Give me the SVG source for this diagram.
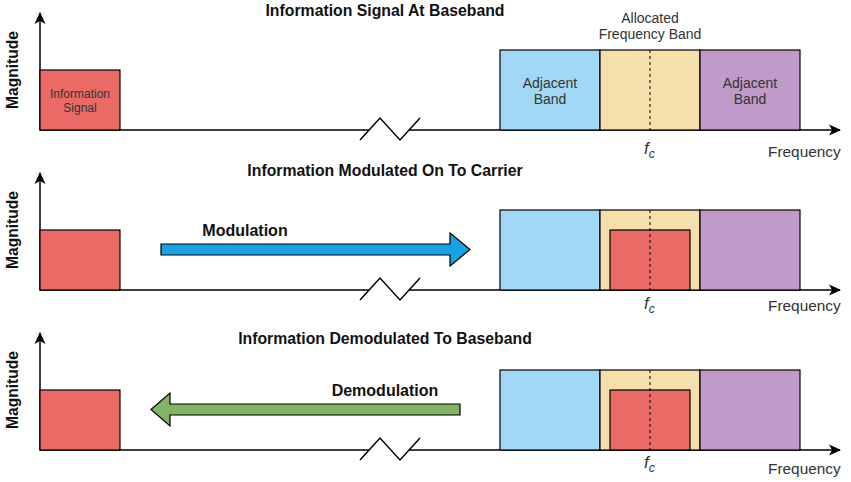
<svg xmlns="http://www.w3.org/2000/svg" width="851" height="482" viewBox="0 0 851 482">
<style>
.ax{stroke:#000;stroke-width:1.5;fill:none}
.box{stroke:#000;stroke-width:1.2}
.red{fill:#EA6B66}
.blue{fill:#A0D8F5}
.yel{fill:#F5DFAA}
.pur{fill:#C09AC8}
.dash{stroke:#000;stroke-width:1;stroke-dasharray:3 3;fill:none}
.title{font-family:"Liberation Sans",Arial,sans-serif;font-size:15.8px;font-weight:bold;fill:#111;text-anchor:middle}
.mag{font-family:"Liberation Sans",Arial,sans-serif;font-size:15.6px;font-weight:bold;fill:#111;text-anchor:middle}
.lbl{font-family:"Liberation Sans",Arial,sans-serif;font-size:14px;fill:#333;text-anchor:middle}
.small{font-family:"Liberation Sans",Arial,sans-serif;font-size:12px;fill:#333;text-anchor:middle}
.freq{font-family:"Liberation Sans",Arial,sans-serif;font-size:15.4px;fill:#333}
.fc{font-family:"Liberation Sans",Arial,sans-serif;font-size:17px;font-style:italic;fill:#333}
.fcs{font-size:12px}
.arrlbl{font-family:"Liberation Sans",Arial,sans-serif;font-size:16px;font-weight:bold;fill:#111;text-anchor:middle}
</style>
<defs>
<marker id="ah" viewBox="0 0 12 12" refX="11" refY="6" markerWidth="12" markerHeight="12" markerUnits="userSpaceOnUse" orient="auto">
<path d="M0,0.5 L12,6 L0,11.5 L3,6 z" fill="#000"/>
</marker>
</defs>

<g id="connectors">
<line class="ax" x1="40" y1="130.5" x2="40" y2="13" marker-end="url(#ah)"/>
<line class="ax" x1="40" y1="130" x2="369" y2="130"/>
<line class="ax" x1="409" y1="130" x2="840" y2="130" marker-end="url(#ah)"/>
<polyline class="ax" points="360,140 380,118 400,140 420,118"/>
<line class="ax" x1="40" y1="290.5" x2="40" y2="173" marker-end="url(#ah)"/>
<line class="ax" x1="40" y1="290" x2="369" y2="290"/>
<line class="ax" x1="409" y1="290" x2="840" y2="290" marker-end="url(#ah)"/>
<polyline class="ax" points="360,300 380,278 400,300 420,278"/>
<line class="ax" x1="40" y1="450.5" x2="40" y2="333" marker-end="url(#ah)"/>
<line class="ax" x1="40" y1="450" x2="369" y2="450"/>
<line class="ax" x1="409" y1="450" x2="840" y2="450" marker-end="url(#ah)"/>
<polyline class="ax" points="360,460 380,438 400,460 420,438"/>
</g>

<!-- Panel 1 -->
<text class="title" x="385" y="16">Information Signal At Baseband</text>
<text class="mag" transform="translate(17.5,70) rotate(-90)">Magnitude</text>
<g id="info-signal-1">
<rect class="box red" x="40" y="70" width="80" height="60"/>
<text class="small" x="80" y="98">Information</text>
<text class="small" x="80" y="112">Signal</text>
</g>
<g id="adjacent-left-1">
<rect class="box blue" x="500" y="50" width="100" height="80"/>
<text class="lbl" x="550" y="88">Adjacent</text>
<text class="lbl" x="550" y="104">Band</text>
</g>
<g id="allocated-1">
<rect class="box yel" x="600" y="50" width="100" height="80"/>
<line class="dash" x1="650" y1="50" x2="650" y2="130"/>
<text class="lbl" x="650" y="23">Allocated</text>
<text class="lbl" x="650" y="39">Frequency Band</text>
</g>
<g id="adjacent-right-1">
<rect class="box pur" x="700" y="50" width="100" height="80"/>
<text class="lbl" x="750" y="88">Adjacent</text>
<text class="lbl" x="750" y="104">Band</text>
</g>
<text class="fc" x="644" y="154">f<tspan class="fcs" dy="4">c</tspan></text>
<text class="freq" x="768" y="157">Frequency</text>

<!-- Panel 2 -->
<text class="title" x="385" y="176">Information Modulated On To Carrier</text>
<text class="mag" transform="translate(17.5,230) rotate(-90)">Magnitude</text>
<g id="info-signal-2">
<rect class="box red" x="40" y="230" width="80" height="60"/>
</g>
<g id="modulation-arrow">
<polygon class="box" fill="#1BA1E2" points="161,244 450,244 450,233 470,249.5 450,266 450,255 161,255"/>
<text class="arrlbl" x="245" y="236">Modulation</text>
</g>
<g id="adjacent-left-2">
<rect class="box blue" x="500" y="210" width="100" height="80"/>
</g>
<g id="allocated-2">
<rect class="box yel" x="600" y="210" width="100" height="80"/>
</g>
<g id="adjacent-right-2">
<rect class="box pur" x="700" y="210" width="100" height="80"/>
</g>
<g id="carrier-signal-2">
<rect class="box red" x="610" y="230" width="80" height="60"/>
<line class="dash" x1="650" y1="210" x2="650" y2="290"/>
</g>
<text class="fc" x="644" y="309">f<tspan class="fcs" dy="4">c</tspan></text>
<text class="freq" x="768" y="311">Frequency</text>

<!-- Panel 3 -->
<text class="title" x="385" y="344">Information Demodulated To Baseband</text>
<text class="mag" transform="translate(17.5,390) rotate(-90)">Magnitude</text>
<g id="info-signal-3">
<rect class="box red" x="40" y="390" width="80" height="60"/>
</g>
<g id="demodulation-arrow">
<polygon class="box" fill="#82B366" points="460,404 170,404 170,393 151,409.5 170,426 170,415 460,415"/>
<text class="arrlbl" x="385" y="396">Demodulation</text>
</g>
<g id="adjacent-left-3">
<rect class="box blue" x="500" y="370" width="100" height="80"/>
</g>
<g id="allocated-3">
<rect class="box yel" x="600" y="370" width="100" height="80"/>
</g>
<g id="adjacent-right-3">
<rect class="box pur" x="700" y="370" width="100" height="80"/>
</g>
<g id="carrier-signal-3">
<rect class="box red" x="610" y="390" width="80" height="60"/>
<line class="dash" x1="650" y1="370" x2="650" y2="450"/>
</g>
<text class="fc" x="644" y="468">f<tspan class="fcs" dy="4">c</tspan></text>
<text class="freq" x="768" y="474">Frequency</text>
</svg>
